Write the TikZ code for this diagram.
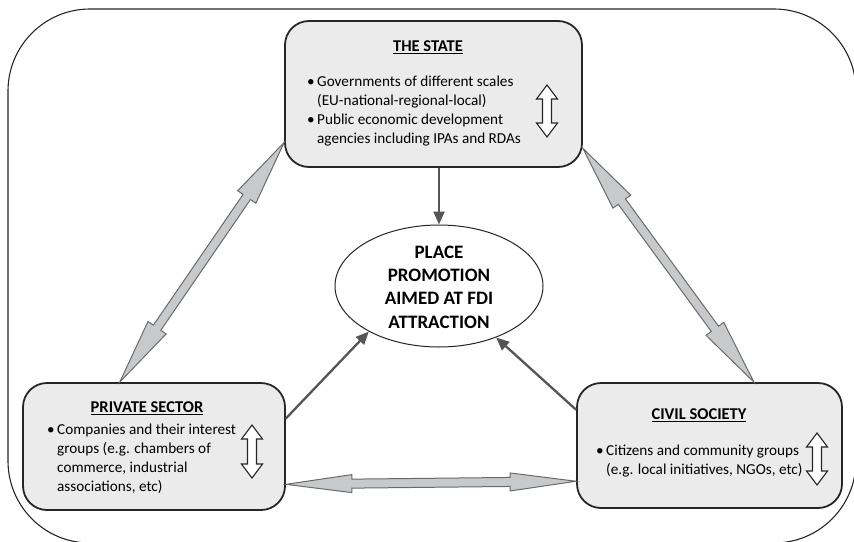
\documentclass[tikz,border=0pt]{standalone}
\usepackage{fontspec}
\setmainfont{Carlito}
\usetikzlibrary{calc,arrows.meta,shapes.geometric}

\definecolor{boxfill}{HTML}{EBEBEC}
\definecolor{boxline}{HTML}{262626}
\definecolor{linkfill}{HTML}{C8C9CB}
\definecolor{linkline}{HTML}{6A6A6A}
\definecolor{flowline}{HTML}{555555}

% Two-headed block arrow between two points:
% #1,#2 ends; #3 head length; #4 head half-width; #5 shaft half-width; #6 style
\newcommand{\twoheaded}[6]{%
  \draw[#6] (#1)
    -- ($(#1)!#3!(#2)!#4!90:(#2)$)
    -- ($(#1)!#3!(#2)!#5!90:(#2)$)
    -- ($(#2)!#3!(#1)!#5!-90:(#1)$)
    -- ($(#2)!#3!(#1)!#4!-90:(#1)$)
    -- (#2)
    -- ($(#2)!#3!(#1)!#4!90:(#1)$)
    -- ($(#2)!#3!(#1)!#5!90:(#1)$)
    -- ($(#1)!#3!(#2)!#5!-90:(#2)$)
    -- ($(#1)!#3!(#2)!#4!-90:(#2)$)
    -- cycle;}

\newcommand{\bul}{\makebox[10pt][l]{\textbullet}}
\newcommand{\cont}{\hspace*{10pt}}

\tikzset{
  frame/.style={draw=boxline, line width=1.1pt, rounded corners=82pt},
  actor/.style={draw=boxline, fill=boxfill, line width=1.8pt, rounded corners=24pt,
    inner sep=0pt},
  goal/.style={draw=boxline, fill=white, line width=1pt, ellipse, inner sep=0pt,
    minimum width=208pt, minimum height=122pt},
  title/.style={font=\fontsize{16.5}{19}\selectfont\bfseries, inner sep=0pt},
  items/.style={font=\fontsize{15.2}{19}\selectfont, align=left, anchor=west, inner sep=0pt},
  goaltext/.style={font=\fontsize{19}{23.3}\selectfont\bfseries, align=center, inner sep=0pt},
  link/.style={fill=linkfill, draw=linkline, line width=1pt, line join=miter},
  levels/.style={fill=white, draw=boxline, line width=1.1pt, line join=miter},
  flow/.style={draw=flowline, line width=2.3pt, -{Triangle[length=13pt,width=11pt]}},
}

\begin{document}
\begin{tikzpicture}[x=1pt, y=-1pt]
\useasboundingbox (0,0) rectangle (854,541);

% outer frame
\draw[frame] (8,9) rectangle (856,543);

% actors
\node[actor, minimum width=297pt, minimum height=146pt] (st) at (433.5,94) {};
\node[actor, minimum width=262pt, minimum height=127pt] (pv) at (154,446.5) {};
\node[actor, minimum width=265pt, minimum height=125pt] (cv) at (709.5,445.5) {};

% goal
\node[goal] (el) at (439,286) {};
\node[goaltext] (elt) at (439,287) {PLACE\\PROMOTION\\AIMED AT FDI\\ATTRACTION};

% texts of the state
\node[title] (stt) at (428,47) {\underline{THE STATE}};
\node[items] (stl) at (307,111) {\bul Governments of different scales\\
  \cont(EU-national-regional-local)\\
  \bul Public economic development\\
  \cont agencies including IPAs and RDAs};

% texts of the private sector
\node[title] (pvt) at (147,408) {\underline{PRIVATE SECTOR}};
\node[items] (pvl) at (47,458.5) {\bul Companies and their interest\\
  \cont groups (e.g. chambers of\\
  \cont commerce, industrial\\
  \cont associations, etc)};

% texts of civil society
\node[title] (cvt) at (699,415) {\underline{CIVIL SOCIETY}};
\node[items] (cvl) at (596,461) {\bul Citizens and community groups\\
  \cont(e.g. local initiatives, NGOs, etc)};

% level arrows inside the boxes
\coordinate (sta) at (547,85);  \coordinate (stb) at (547,137);
\coordinate (pva) at (252,425); \coordinate (pvb) at (252,478);
\coordinate (cva) at (817,433); \coordinate (cvb) at (817,485);
\twoheaded{sta}{stb}{14pt}{10.5pt}{4.5pt}{levels}
\twoheaded{pva}{pvb}{14pt}{10.5pt}{4.5pt}{levels}
\twoheaded{cva}{cvb}{14pt}{10.5pt}{4.5pt}{levels}

% relations between actors
\twoheaded{st.198}{pv.118}{66pt}{11pt}{4.5pt}{link}
\twoheaded{st.340.4}{cv.55.6}{66pt}{11pt}{4.5pt}{link}
\twoheaded{pv.344.4}{cv.195.7}{66pt}{9pt}{4.5pt}{link}

% contributions to place promotion
\draw[flow] (el.north |- st.south) -- (el.north);
\draw[flow] (pv.12.5) -- (el.213.7);
\draw[flow] (cv.165.4) -- (el.318.7);
\end{tikzpicture}
\end{document}
